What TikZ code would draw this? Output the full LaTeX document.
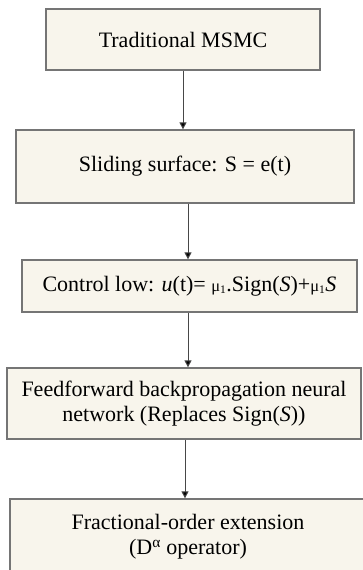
\documentclass[tikz,border=0pt]{standalone}
\usepackage{fontspec}
\setmainfont{Liberation Serif}
\usetikzlibrary{arrows.meta}
\definecolor{boxfill}{HTML}{F8F5EC}
\definecolor{boxline}{HTML}{757575}
\definecolor{arrline}{HTML}{474747}
\begin{document}
\begin{tikzpicture}[x=1pt,y=-1pt,
  box/.style={draw=boxline, line width=1.3pt, fill=boxfill, inner sep=0pt, align=center,
    font=\fontsize{22}{25}\selectfont},
  arr/.style={draw=arrline, line width=1pt, -{Triangle[width=7pt,length=7pt,fill=black]}}]
\clip (0,0) rectangle (363,570);
\fill[white] (0,0) rectangle (363,570);
\newcommand{\muone}{{\fontsize{16.5}{16.5}\selectfont μ\textsubscript{1}}}
\node[box, minimum width=274pt, minimum height=61pt] (b1) at (183,39.5) {Traditional MSMC};
\node[box, minimum width=338pt, minimum height=73pt] (b2) at (185,166.5) {Sliding surface: S = e(t)};
\node[box, minimum width=335pt, minimum height=52pt] (b3) at (189.5,286) {Control low: \textit{u}(t)= \muone.Sign(\textit{S})+\muone\textit{S}};
\node[box, minimum width=354pt, minimum height=71pt] (b4) at (184,403.5) {Feedforward backpropagation neural\\network (Replaces Sign(\textit{S}))};
\node[box, minimum width=356pt, minimum height=76pt] (b5) at (188,537) {Fractional-order extension\\(D\textsuperscript{α} operator)};
\coordinate (a1) at (183,0);
\coordinate (a2) at (188,0);
\coordinate (a3) at (188,0);
\coordinate (a4) at (185,0);
\draw[arr] (b1.south -| a1) -- (b2.north -| a1);
\draw[arr] (b2.south -| a2) -- (b3.north -| a2);
\draw[arr] (b3.south -| a3) -- (b4.north -| a3);
\draw[arr] (b4.south -| a4) -- (b5.north -| a4);
\end{tikzpicture}
\end{document}
